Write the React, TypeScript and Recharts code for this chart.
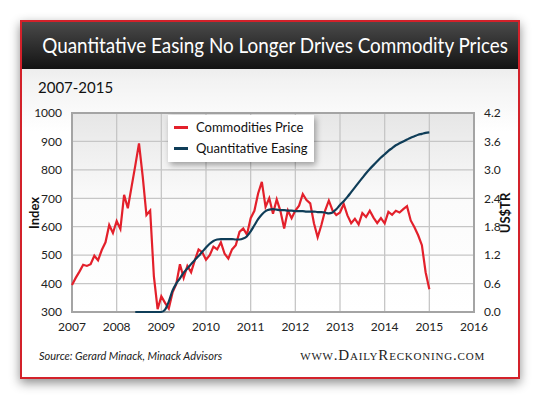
// App.tsx
import {
  LineChart,
  Line,
  XAxis,
  YAxis,
  CartesianGrid,
  Legend,
  ReferenceArea,
} from "recharts";

const RED = "#e3202b";
const NAVY = "#0f3d58";

// monthly, Jan 2007 .. Jan 2015
const commodities = [
  395, 420, 442, 466, 462, 468, 498, 482, 518, 545, 606, 578,
  620, 592, 712, 665, 740, 815, 893, 776, 641, 657, 425, 310,
  355, 332, 312, 368, 398, 468, 420, 462, 440, 482, 520, 510,
  484, 500, 530, 520, 545, 505, 488, 520, 535, 582, 594, 572,
  630, 656, 717, 758, 670, 700, 646, 696, 655, 594, 657, 630,
  657, 674, 715, 694, 682, 612, 563, 606, 657, 692, 657, 641,
  650, 680, 640, 612, 628, 608, 648, 634, 656, 632, 613, 630,
  612, 652, 642, 656, 650, 662, 672, 622, 598, 570, 535, 440,
  380,
];

// US$ trillion, starts mid 2008
const qe = [
  null, null, null, null, null, null, null, null, null, null, null, null,
  null, null, null, null, null, 0, 0, 0, 0, 0, 0, 0,
  0, 0.05, 0.22, 0.45, 0.6, 0.71, 0.83, 0.92, 1.01, 1.1, 1.18, 1.27,
  1.36, 1.44, 1.5, 1.53, 1.54, 1.54, 1.54, 1.54, 1.53, 1.53, 1.55, 1.6,
  1.7, 1.83, 1.96, 2.06, 2.13, 2.16, 2.17, 2.16, 2.15, 2.15, 2.14, 2.14,
  2.13, 2.13, 2.13, 2.12, 2.12, 2.12, 2.11, 2.11, 2.1, 2.08, 2.1, 2.17,
  2.26, 2.34, 2.43, 2.53, 2.63, 2.73, 2.83, 2.93, 3.02, 3.1, 3.18, 3.26,
  3.33, 3.4, 3.46, 3.52, 3.56, 3.6, 3.64, 3.68, 3.71, 3.74, 3.76, 3.78,
  3.79,
];

const yearTicks = [2007, 2008, 2009, 2010, 2011, 2012, 2013, 2014, 2015, 2016];
const indexTicks = [300, 400, 500, 600, 700, 800, 900, 1000];
const usdTicks = [0, 0.6, 1.2, 1.8, 2.4, 3.0, 3.6, 4.2];

const data = commodities.map((v, i) => ({
  t: 2007 + i / 12,
  commodities: v,
  qe: qe[i],
}));

const tickStyle = { fontFamily: "Lato, sans-serif", fontSize: 12, fill: "#222" };

function LegendBox({ payload }: any) {
  return (
    <div
      style={{
        display: "inline-block",
        background: "#fff",
        boxShadow: "2px 3px 6px rgba(0,0,0,0.35)",
        padding: "2px 6px 3px 6px",
        fontFamily: "Lato, sans-serif",
        fontSize: 13,
        color: "#111",
        lineHeight: "21px",
        whiteSpace: "nowrap",
      }}
    >
      {(payload || []).map((p: any) => (
        <div key={p.value} style={{ display: "flex", alignItems: "center" }}>
          <span
            style={{
              display: "inline-block",
              width: 14,
              height: 3,
              background: p.color,
              marginRight: 8,
            }}
          />
          {p.value}
        </div>
      ))}
    </div>
  );
}

export default function App() {
  return (
    <div
      style={{
        position: "fixed",
        left: 0,
        top: 0,
        width: 540,
        height: 399,
        background: "#fff",
        overflow: "hidden",
      }}
    >
      <div
        style={{
          position: "absolute",
          left: 20,
          top: 20,
          width: 500,
          height: 359,
          boxSizing: "border-box",
          border: "2px solid #d3212a",
          boxShadow: "0 4px 10px rgba(0,0,0,0.45)",
          background: "linear-gradient(#d9d9d9 0px, #f3f3f3 60px, #fff 110px)",
        }}
      >
        <div
          style={{
            height: 47,
            background: "linear-gradient(#4a4a4a, #131313)",
            color: "#fff",
            fontFamily: "Lato, sans-serif",
            fontSize: 20.5,
            lineHeight: "47px",
            textAlign: "center",
            whiteSpace: "nowrap",
          }}
        >
          <span style={{ display: "inline-block", transform: "scaleX(0.92)" }}>
            Quantitative Easing No Longer Drives Commodity Prices
          </span>
        </div>
        <div
          style={{
            position: "absolute",
            left: 16,
            top: 56,
            fontFamily: "Lato, sans-serif",
            fontSize: 15,
            color: "#111",
          }}
        >
          2007-2015
        </div>
        <div
          style={{
            position: "absolute",
            left: 17,
            top: 327,
            fontFamily: "Lato, sans-serif",
            fontStyle: "italic",
            fontSize: 11,
            color: "#222",
          }}
        >
          Source: Gerard Minack, Minack Advisors
        </div>
        <div
          style={{
            position: "absolute",
            right: 33,
            top: 325,
            fontFamily: "'Liberation Serif', serif",
            fontVariant: "small-caps",
            fontSize: 15,
            letterSpacing: 0.8,
            color: "#222",
          }}
        >
          www.DailyReckoning.com
        </div>
      </div>

      <div
        style={{
          position: "absolute",
          left: 18,
          top: 213,
          transform: "translate(0,-50%) rotate(-90deg)",
          fontFamily: "Lato, sans-serif",
          fontWeight: 700,
          fontSize: 13,
          color: "#111",
        }}
      >
        Index
      </div>
      <div
        style={{
          position: "absolute",
          left: 485,
          top: 213,
          transform: "translate(0,-50%) rotate(-90deg)",
          fontFamily: "Lato, sans-serif",
          fontWeight: 700,
          fontSize: 13,
          color: "#111",
        }}
      >
        US$TR
      </div>

      <div style={{ position: "absolute", left: 0, top: 0 }}>
        <LineChart
          width={540}
          height={399}
          data={data}
          margin={{ top: 113, right: 26, bottom: 57, left: 32 }}
        >
          <defs>
            <linearGradient id="plotBg" x1="0" y1="0" x2="0" y2="1">
              <stop offset="0%" stopColor="#e6e6e6" />
              <stop offset="45%" stopColor="#fbfbfb" />
              <stop offset="100%" stopColor="#ffffff" />
            </linearGradient>
          </defs>
          <CartesianGrid
            stroke="#c6c6c6"
            strokeWidth={1.3}
            fill="url(#plotBg)"
            verticalValues={yearTicks}
            horizontalValues={indexTicks}
            yAxisId="left"
          />
          <XAxis
            dataKey="t"
            type="number"
            domain={[2007, 2016]}
            ticks={yearTicks}
            tickLine={false}
            axisLine={false}
            tick={tickStyle}
            tickMargin={4}
            height={30}
          />
          <YAxis
            yAxisId="left"
            domain={[300, 1000]}
            ticks={indexTicks}
            tickLine={false}
            axisLine={false}
            tick={tickStyle}
            tickMargin={4}
            width={40}
          />
          <YAxis
            yAxisId="right"
            orientation="right"
            domain={[0, 4.2]}
            ticks={usdTicks}
            tickFormatter={(v: number) => v.toFixed(1)}
            tickLine={false}
            axisLine={false}
            tick={tickStyle}
            tickMargin={4}
            width={40}
          />
          <ReferenceArea
            yAxisId="left"
            x1={2007}
            x2={2016}
            y1={300}
            y2={1000}
            fill="none"
            stroke="#a4a4a4"
            strokeWidth={2}
            ifOverflow="visible"
          />
          <Line
            yAxisId="left"
            type="linear"
            dataKey="commodities"
            name="Commodities Price"
            stroke={RED}
            strokeWidth={2.2}
            dot={false}
            isAnimationActive={false}
          />
          <Line
            yAxisId="right"
            type="monotone"
            dataKey="qe"
            name="Quantitative Easing"
            stroke={NAVY}
            strokeWidth={2.2}
            dot={false}
            connectNulls={false}
            isAnimationActive={false}
          />
          <Legend
            layout="vertical"
            align="center"
            verticalAlign="middle"
            content={LegendBox}
            wrapperStyle={{ left: 168, top: 115, width: "auto", height: "auto" }}
          />
        </LineChart>
      </div>
    </div>
  );
}
